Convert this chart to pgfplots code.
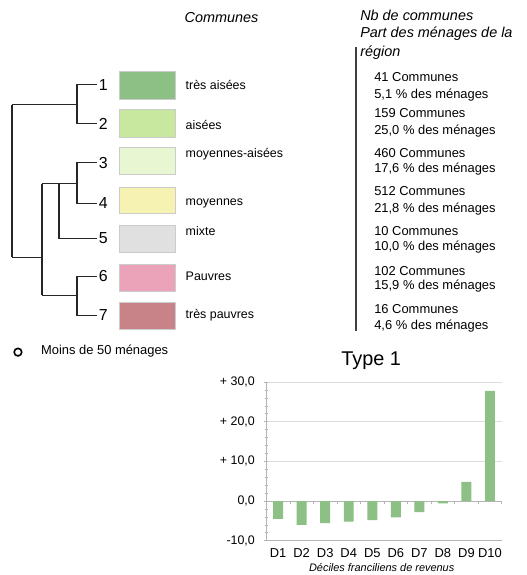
\documentclass[border=0pt]{standalone}
\usepackage{fontspec}
\setmainfont{Liberation Sans}
\usepackage{pgfplots}
\usepackage{pgfplotstable}
\pgfplotsset{compat=1.18}

\definecolor{typeA}{HTML}{8CC084}
\definecolor{typeB}{HTML}{C8E8A0}
\definecolor{typeC}{HTML}{E8F6D2}
\definecolor{typeD}{HTML}{F6F3B2}
\definecolor{typeE}{HTML}{E0E0E0}
\definecolor{typeF}{HTML}{EBA3BA}
\definecolor{typeG}{HTML}{C88388}
\definecolor{gridgray}{HTML}{DCDCDC}
\definecolor{axgray}{HTML}{B4B4B4}

\newcommand\fs[1]{\fontsize{#1}{#1}\selectfont}

% ecart par decile (type 1)
\pgfplotstableread{
dec val
1  -4.5
2  -6.0
3  -5.6
4  -5.2
5  -4.8
6  -4.1
7  -2.8
8  -0.6
9   4.8
10 27.8
}\typeun

\begin{document}
\begin{tikzpicture}
\begin{scope}[x=1bp,y=-1bp]
  \useasboundingbox (0,0) rectangle (528,575);

  % en-tetes
  \node[font=\fs{14.5}\itshape] at (222,18) {Communes};
  \node[font=\fs{14.5}\itshape,anchor=west,inner sep=0] at (361,15) {Nb de communes};
  \node[font=\fs{14.5}\itshape,anchor=west,inner sep=0] at (361,34) {Part des ménages de la};
  \node[font=\fs{14.5}\itshape,anchor=west,inner sep=0] at (361,53) {région};
  \draw[line width=1.3bp,black!75] (357,47) -- (357,332);

  % dendrogramme
  \begin{scope}[line width=1.4bp,black!85]
    \draw (97,85) -- (77,85) -- (77,124) -- (97,124);
    \draw (12,105) -- (77,105);
    \draw (97,163) -- (77,163) -- (77,204) -- (97,204);
    \draw (42,184) -- (77,184);
    \draw (97,239) -- (59,239) -- (59,184);
    \draw (97,277) -- (77,277) -- (77,316) -- (97,316);
    \draw (42,296) -- (77,296);
    \draw (42,184) -- (42,296);
    \draw (12,258) -- (42,258);
    \draw (12,105) -- (12,258);
  \end{scope}

  \foreach \n/\y in {1/85,2/124,3/163,4/204,5/239,6/277,7/316}
    \node[font=\fs{16},anchor=west,inner sep=0] at (99,\y) {\n};

  % cases de couleur
  \foreach \c/\t/\b in {typeA/72/100,typeB/110/138,typeC/148/175,typeD/188/214,
                        typeE/226/253,typeF/265/292,typeG/303/330}
    \draw[fill=\c,draw=black!20,line width=0.8bp] (120,\t) rectangle (176,\b);

  \foreach \t/\y in {très aisées/85,aisées/125,moyennes-aisées/155,moyennes/204,
                     mixte/232,Pauvres/277,très pauvres/316}
    \node[font=\fs{12.5},anchor=west,inner sep=0] at (186,\y) {\t};

  \begin{scope}[every node/.style={font=\fs{13},anchor=west,inner sep=0}]
    \node at (375,77)  {41 Communes};
    \node at (375,95)  {5,1 \% des ménages};
    \node at (375,113) {159 Communes};
    \node at (375,131) {25,0 \% des ménages};
    \node at (375,153) {460 Communes};
    \node at (375,170) {17,6 \% des ménages};
    \node at (375,192) {512 Communes};
    \node at (375,210) {21,8 \% des ménages};
    \node at (375,232) {10 Communes};
    \node at (375,248) {10,0 \% des ménages};
    \node at (375,272) {102 Communes};
    \node at (375,287) {15,9 \% des ménages};
    \node at (375,310) {16 Communes};
    \node at (375,327) {4,6 \% des ménages};
  \end{scope}

  % legende du cercle
  \draw[line width=1.6bp] (18,353) circle (3.8);
  \node[font=\fs{13},anchor=west,inner sep=0] at (41,352) {Moins de 50 ménages};
\end{scope}

\begin{axis}[
    at={(267bp,-542bp)}, anchor=south west,
    scale only axis, width=236bp, height=159bp,
    xmin=0.5, xmax=10.5, ymin=-10, ymax=30,
    axis lines=left, axis line style={-,axgray,line width=0.8bp},
    xtick={1,...,10},
    xticklabels={D1,D2,D3,D4,D5,D6,D7,D8,D9,D10},
    major x tick style={draw=none},
    xticklabel style={font=\fs{13},anchor=center,yshift=-10bp},
    ytick={-10,0,10,20,30},
    yticklabels={{-10,0},{0,0},{+ 10,0},{+ 20,0},{+ 30,0}},
    yticklabel style={font=\fs{12.5},anchor=east,xshift=-6bp},
    minor y tick num=4,
    y tick style={axgray,line width=0.6bp},
    major tick length=4bp, minor tick length=3bp,
    ymajorgrids, grid style={gridgray,line width=0.8bp},
    title={Type 1},
    title style={font=\fs{20},at={(axis description cs:0.445,1)},anchor=center,yshift=15bp},
    xlabel={Déciles franciliens de revenus},
    xlabel style={font=\fs{11}\itshape,at={(axis description cs:0.49,0)},anchor=center,yshift=-27bp},
    clip=false,
]
  \draw[axgray,line width=0.8bp] (axis cs:0.5,0) -- (axis cs:10.5,0);
  \pgfplotsinvokeforeach{0.5,1.5,2.5,3.5,4.5,5.5,6.5,7.5,8.5,9.5,10.5}{
    \draw[axgray,line width=0.6bp] (axis cs:#1,0) -- (axis cs:#1,-0.8);
  }
  \addplot[ybar, bar width=10bp, fill=typeA, draw=none] table[x=dec,y=val] {\typeun};
\end{axis}
\end{tikzpicture}
\end{document}
